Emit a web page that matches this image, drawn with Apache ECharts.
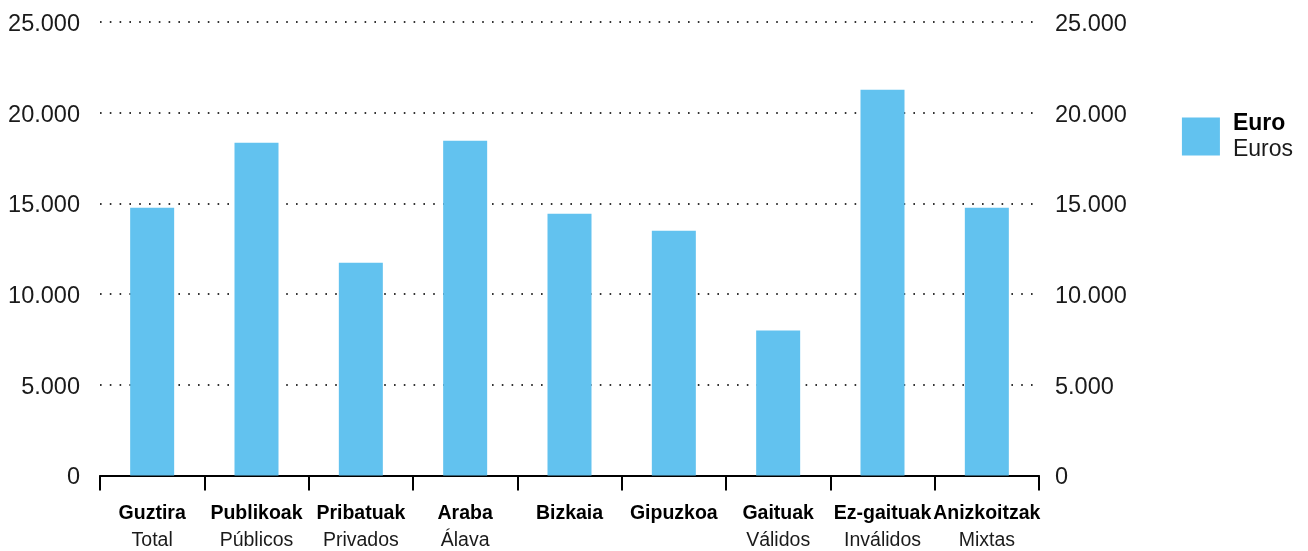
<!DOCTYPE html>
<html>
<head>
<meta charset="utf-8">
<script src="https://cdn.jsdelivr.net/npm/echarts@6/dist/echarts.min.js"></script>
<style>
  html, body { margin: 0; padding: 0; background: #fff; }
  #chart { width: 1308px; height: 551px; }
</style>
</head>
<body>
<div id="chart"></div>
<script>
// categories: basque (bold) + spanish
var catsEu = ["Guztira", "Publikoak", "Pribatuak", "Araba", "Bizkaia", "Gipuzkoa", "Gaituak", "Ez-gaituak", "Anizkoitzak"];
var catsEs = ["Total", "Públicos", "Privados", "Álava", "", "", "Válidos", "Inválidos", "Mixtas"];
var euros = [14760, 18340, 11730, 18450, 14430, 13490, 7990, 21260, 14760];
var yTicks = [0, 5000, 10000, 15000, 20000, 25000];

var chart = echarts.init(document.getElementById("chart"));

var fmt = function(v) {
  return String(v).replace(/\B(?=(\d{3})+(?!\d))/g, ".");
};

var font = "'Liberation Sans', Arial, sans-serif";

var yAxisBase = {
  type: "value",
  min: yTicks[0],
  max: yTicks[yTicks.length - 1],
  interval: 5000,
  axisLine: { show: false },
  axisTick: { show: false },
  axisLabel: {
    formatter: fmt,
    color: "#1a1a1a",
    fontSize: 23.5,
    fontFamily: font,
    verticalAlign: "top",
    lineHeight: 5
  }
};

var option = {
  animation: false,
  grid: { left: 100, right: 269, top: 22, bottom: 75 },
  legend: {
    right: 10,
    top: 107,
    orient: "vertical",
    itemWidth: 38,
    itemHeight: 38,
    icon: "rect",
    data: ["Euro"],
    formatter: function() {
      return "{b|Euro}\n{n|Euros}";
    },
    textStyle: {
      rich: {
        b: { fontSize: 23, fontWeight: "bold", color: "#000", lineHeight: 26, padding: [0, 0, 0, 8], fontFamily: font },
        n: { fontSize: 23, color: "#1a1a1a", lineHeight: 26, padding: [0, 0, 0, 8], fontFamily: font }
      }
    }
  },
  xAxis: {
    type: "category",
    data: catsEu,
    axisLine: { show: true, lineStyle: { color: "#000", width: 2 } },
    axisTick: { show: true, alignWithLabel: false, interval: 0, length: 15, lineStyle: { color: "#000", width: 2 } },
    axisLabel: {
      interval: 0,
      margin: 25,
      formatter: function(v, i) {
        var s = "{b|" + v + "}";
        if (catsEs[i]) s += "\n{n|" + catsEs[i] + "}";
        return s;
      },
      rich: {
        b: { fontSize: 19.5, fontWeight: "bold", color: "#000", lineHeight: 27, fontFamily: font },
        n: { fontSize: 19.5, color: "#1a1a1a", lineHeight: 27, fontFamily: font }
      }
    }
  },
  yAxis: [
    Object.assign({}, yAxisBase, {
      position: "left",
      axisLabel: Object.assign({}, yAxisBase.axisLabel, { margin: 20 }),
      splitLine: { show: true, lineStyle: { color: "#333", width: 2, type: [1.6, 8.2] } }
    }),
    Object.assign({}, yAxisBase, {
      position: "right",
      axisLabel: Object.assign({}, yAxisBase.axisLabel, { margin: 16 }),
      splitLine: { show: false }
    })
  ],
  series: [
    {
      name: "Euro",
      type: "bar",
      data: euros,
      barWidth: 44,
      itemStyle: { color: "#62c2ef" }
    }
  ]
};

chart.setOption(option);
</script>
</body>
</html>
